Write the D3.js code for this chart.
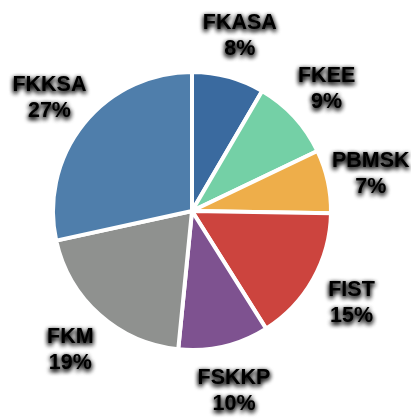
<!DOCTYPE html>
<html>
<head>
<meta charset="utf-8">
<script src="https://cdn.jsdelivr.net/npm/d3@7/dist/d3.min.js"></script>
<style>
  body { margin: 0; background: #fff; }
  .lbl { font-family: "Liberation Sans", Arial, sans-serif; font-weight: bold; font-size: 21.5px; fill: #000; }
</style>
</head>
<body>
<script>
var faculties = ["FKASA", "FKEE", "PBMSK", "FIST", "FSKKP", "FKM", "FKKSA"];
var shares = [8, 9, 7, 15, 10, 19, 27];
var colors = ["#3a6a9f", "#74d0a6", "#eeae4a", "#cc443e", "#7e5290", "#8f918f", "#4f7eab"];

var width = 411, height = 420,
    cx = 192, cy = 211,
    radius = 139, labelRadius = 183;

var svg = d3.select("body").append("svg")
    .attr("width", width)
    .attr("height", height);

// blurred dark halo behind the labels
var filter = svg.append("defs").append("filter")
    .attr("id", "glow")
    .attr("x", "-30%").attr("y", "-50%")
    .attr("width", "160%").attr("height", "200%");
filter.append("feGaussianBlur")
    .attr("in", "SourceAlpha")
    .attr("stdDeviation", 2.6)
    .attr("result", "blur");
filter.append("feOffset")
    .attr("in", "blur").attr("dy", 2).attr("result", "off");
var merge = filter.append("feMerge");
merge.append("feMergeNode").attr("in", "off");
merge.append("feMergeNode").attr("in", "off");
merge.append("feMergeNode").attr("in", "SourceGraphic");

var data = faculties.map(function (f, i) {
    return {name: f, value: shares[i], color: colors[i]};
});

var pie = d3.pie()
    .sort(null)
    .value(function (d) { return d.value; });

var arc = d3.arc()
    .innerRadius(0)
    .outerRadius(radius);

var g = svg.append("g")
    .attr("transform", "translate(" + cx + "," + cy + ")");

var arcs = pie(data);

g.selectAll("path.slice")
    .data(arcs)
    .enter().append("path")
    .attr("class", "slice")
    .attr("d", arc)
    .attr("fill", function (d) { return d.data.color; })
    .attr("stroke", "#fff")
    .attr("stroke-width", 4)
    .attr("stroke-linejoin", "round");

var labels = g.selectAll("text.lbl")
    .data(arcs)
    .enter().append("text")
    .attr("class", "lbl")
    .attr("text-anchor", "middle")
    .attr("filter", "url(#glow)")
    .attr("transform", function (d) {
        var a = (d.startAngle + d.endAngle) / 2;
        return "translate(" + (labelRadius * Math.sin(a)) + "," + (-labelRadius * Math.cos(a)) + ")";
    });

labels.append("tspan")
    .attr("x", 0)
    .attr("y", -5)
    .text(function (d) { return d.data.name; });

labels.append("tspan")
    .attr("x", 0)
    .attr("y", 21)
    .text(function (d) { return d.data.value + "%"; });
</script>
</body>
</html>
